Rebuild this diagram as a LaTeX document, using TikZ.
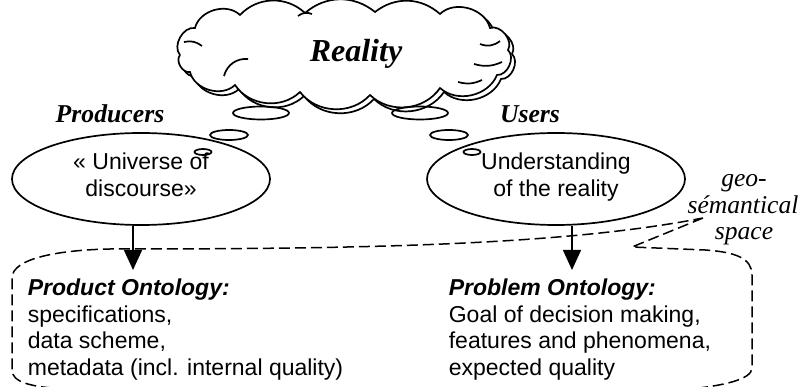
\documentclass[tikz,border=0pt]{standalone}
\usepackage{fontspec}
\setmainfont{Liberation Serif}
\newfontfamily\arial{Liberation Sans}
\usetikzlibrary{shapes.geometric,arrows.meta}
\begin{document}
\begin{tikzpicture}[x=1pt,y=-1pt,line width=1.7pt,
  bubble/.style={draw,ellipse,inner sep=0pt},
  thought/.style={draw,ellipse,inner sep=0pt,minimum width=258pt,minimum height=92pt},
  bodytxt/.style={inner sep=0pt,anchor=base west,font=\arial\fontsize{23}{26.5}\selectfont},
  elltxt/.style={inner sep=0pt,anchor=base,font=\arial\fontsize{23}{26.5}\selectfont},
  actor/.style={inner sep=0pt,anchor=base,font=\bfseries\itshape\fontsize{25.7}{30}\selectfont},
  spacetxt/.style={inner sep=0pt,anchor=base,font=\itshape\fontsize{25.6}{30}\selectfont},
  arr/.style={line width=1.5pt,-{Triangle[length=20pt,width=18pt]}},
  region/.style={draw,line width=1.5pt,dash pattern=on 11pt off 5pt}
]
\useasboundingbox (0,0) rectangle (804,387);
% cloud (double outline)
\foreach \s in {4,0}{
\begin{scope}[shift={(\s,\s)}]
\draw[fill=white] (180,55) to[bend left=70] (195,28) to[bend left=60] (240,15)
  to[bend left=45] (305,13) to[bend left=40] (375,12) to[bend left=40] (440,14)
  to[bend left=60] (490,28) to[bend left=70] (508,50) to[bend left=70] (497,75)
  to[bend left=55] (440,88) to[bend left=50] (370,95) to[bend left=50] (300,92)
  to[bend left=50] (235,85) to[bend left=60] (190,72) to[bend left=70] (180,55);
\end{scope}}
\draw (184,42) to[bend left=25] (202,46);
\draw (224,76) to[bend left=40] (248,59);
\draw (480,44) to[bend right=30] (500,41);
\draw (474,64) to[bend right=20] (502,62);
\draw (458,82) to[bend right=20] (482,80);
\draw (298,16) to[bend left=30] (312,14);
\node[inner sep=0pt,anchor=base,font=\bfseries\itshape\fontsize{32}{36}\selectfont] (reality) at (356,62) {Reality};
% thought bubbles
\node[bubble,minimum width=56pt,minimum height=13pt] (b1) at (261,113) {};
\node[bubble,minimum width=38pt,minimum height=10pt] (b2) at (229,135) {};
\node[bubble,minimum width=17pt,minimum height=6pt] (b3) at (203,152) {};
\node[bubble,minimum width=56pt,minimum height=13pt] (b4) at (420,113) {};
\node[bubble,minimum width=38pt,minimum height=10pt] (b5) at (449,135) {};
\node[bubble,minimum width=17pt,minimum height=6pt] (b6) at (472,152) {};
% actors
\node[actor] (producers) at (110,123) {Producers};
\node[actor] (users) at (530,123) {Users};
% ellipses
\node[thought] (lell) at (141,179) {};
\node[thought] (rell) at (556,179) {};
\node[elltxt] (l1) at (141,170) {« Universe of};
\node[elltxt] (l2) at (141,197) {discourse»};
\node[elltxt] (r1) at (556,170) {Understanding};
\node[elltxt] (r2) at (556,197) {of the reality};
% geo-semantical space
\node[spacetxt] (g1) at (744,187) {geo-};
\node[spacetxt] (g2) at (743,214) {sémantical};
\node[spacetxt] (g3) at (744,240) {space};
% dashed region
\draw[region] (703,218) -- (632,247) -- (705,250)
  .. controls (735,252) and (752,258) .. (752,275) -- (752,368)
  .. controls (752,380) and (720,386) .. (690,389) -- (65,389)
  .. controls (30,387) and (12,382) .. (12,370) -- (12,278)
  .. controls (12,258) and (60,250) .. (110,249)
  .. controls (350,249) and (560,246) .. (703,218);
% arrows
\coordinate (lt) at (133,270);
\coordinate (rt) at (572,270);
\draw[arr] (lt |- lell.south) -- (lt);
\draw[arr] (rt |- rell.south) -- (rt);
% ontology texts
\node[bodytxt,font=\arial\bfseries\itshape\fontsize{23}{26.5}\selectfont] (p0) at (27,296) {Product Ontology:};
\node[bodytxt] (p1) at (27,322.5) {specifications,};
\node[bodytxt] (p2) at (27,349) {data scheme,};
\node[bodytxt] (p3) at (27,375.5) {metadata (incl. internal quality)};
\node[bodytxt,font=\arial\bfseries\itshape\fontsize{23}{26.5}\selectfont] (q0) at (448,296) {Problem Ontology:};
\node[bodytxt] (q1) at (448,322.5) {Goal of decision making,};
\node[bodytxt] (q2) at (448,349) {features and phenomena,};
\node[bodytxt] (q3) at (448,375.5) {expected quality};
\end{tikzpicture}
\end{document}
